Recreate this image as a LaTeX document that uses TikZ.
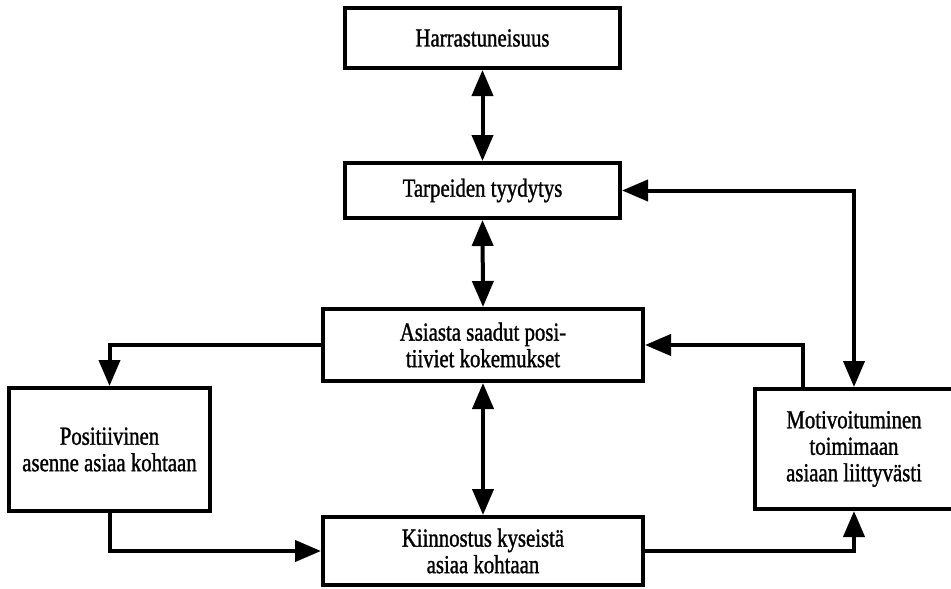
\documentclass[tikz,border=0pt]{standalone}
\usepackage{fontspec}
\setmainfont{Liberation Serif}[FakeStretch=0.8,FakeBold=1.2]
\usetikzlibrary{arrows.meta}
\begin{document}
\begin{tikzpicture}[x=1pt,y=-1pt,
  box/.style={draw, line width=4pt, align=center, inner sep=0pt,
    font=\fontsize{26}{26.5}\selectfont},
  conn/.style={line width=4pt},
  >={Triangle[length=26pt,width=21pt]}]
\path[use as bounding box, fill=white] (0,0) rectangle (951,589);
\node[box, minimum width=275pt, minimum height=60pt] (h) at (482.5,38) {Harrastuneisuus};
\node[box, minimum width=275pt, minimum height=55pt] (t) at (482.5,190.5) {Tarpeiden tyydytys};
\node[box, minimum width=320pt, minimum height=72pt] (a) at (483,345) {Asiasta saadut posi-\\tiiviet kokemukset};
\node[box, minimum width=201pt, minimum height=123pt] (p) at (109.5,449.5) {Positiivinen\\asenne asiaa kohtaan};
\node[box, minimum width=320pt, minimum height=68pt] (k) at (483,551) {Kiinnostus kyseistä\\asiaa kohtaan};
\node[box, minimum width=198pt, minimum height=120pt] (m) at (854,449) {Motivoituminen\\toimimaan\\asiaan liittyvästi};
\coordinate (mq) at ([xshift=-51pt]m.north);
\draw[conn,<->] (h.south) -- (t.north);
\draw[conn,<->] (t.south) -- (a.north);
\draw[conn,<->] (a.south) -- (k.north);
\draw[conn,->] (a.west) -| (p.north);
\draw[conn,->] (p.south) |- (k.west);
\draw[conn,->] (mq) |- (a.east);
\draw[conn,<->] (t.east) -| (m.north);
\draw[conn,->] (k.east) -| (m.south);
\end{tikzpicture}
\end{document}
